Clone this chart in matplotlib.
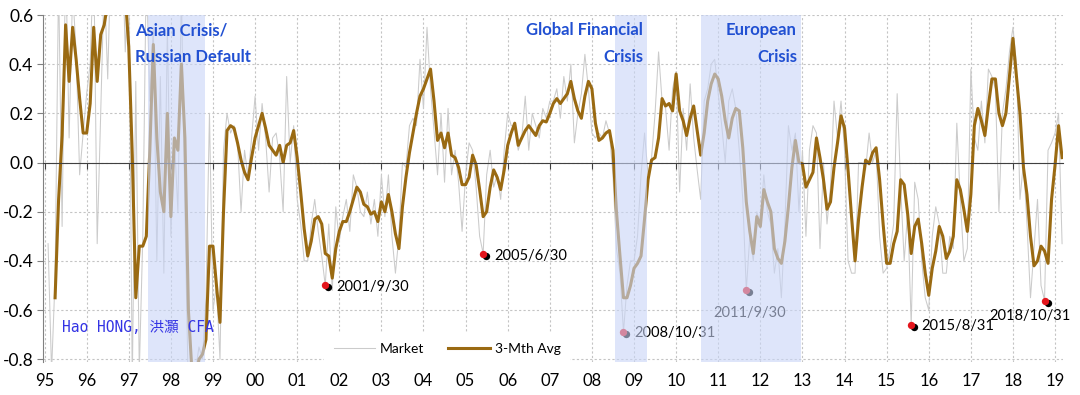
import numpy as np
import matplotlib.pyplot as plt
from matplotlib import transforms

plt.rcParams['font.family'] = ['Lato', 'DejaVu Sans']
plt.rcParams['axes.unicode_minus'] = False

# monthly series, market from 1995/2, 3-mth avg from 1995/4
market_start = (1995, 2)
market = [
    -0.33, -0.85, -0.47, 0.75, -0.26, 0.85, 0.10, 0.70, 0.45, -0.05, 0.12,
    0.28, 0.40, 0.85, -0.33, 0.20, 0.75, 0.34, 0.90, 1.00, 0.75, 0.95, 0.45,
    0.80, -0.90, 0.33, -0.85, -0.30, 0.80, 0.25, 0.55, -0.40, 0.35, -0.45, 0.55,
    -0.30, 0.10, -0.20, 0.70, -0.20, -0.95, -0.90, -0.85, -0.75, -0.80, -0.55, 0.20,
    -0.60, -0.50, -0.80, 0.05, 0.20, 0.12, 0.15, 0.08, -0.20, 0.05, -0.06, 0.10,
    0.27, 0.05, 0.24, 0.10, -0.12, 0.10, 0.12, 0.02, -0.20, 0.35, 0.00, 0.15,
    -0.15, -0.25, -0.40, -0.40, -0.25, -0.15, -0.28, -0.38, -0.50, -0.25, -0.52, -0.18,
    -0.32, -0.22, -0.15, -0.28, -0.05, -0.10, -0.20, -0.22, -0.12, -0.25, -0.15, -0.30,
    -0.05, -0.22, -0.05, -0.30, -0.45, -0.30, 0.00, -0.02, 0.15, 0.18, 0.15, 0.42,
    0.22, 0.55, 0.30, 0.13, -0.05, 0.20, -0.08, 0.22, -0.05, 0.05, -0.08, -0.28,
    -0.05, 0.08, 0.05, -0.10, -0.30, -0.37, -0.05, 0.05, -0.10, -0.05, -0.15, 0.05,
    0.20, 0.15, 0.15, 0.05, 0.10, 0.27, 0.05, 0.20, 0.15, 0.10, 0.22, 0.18,
    0.25, 0.25, 0.30, 0.18, 0.35, 0.25, 0.40, 0.08, 0.20, 0.28, 0.44, 0.30,
    0.12, 0.10, 0.12, 0.10, 0.17, 0.12, -0.05, -0.35, -0.45, -0.69, -0.50, -0.40,
    -0.40, -0.30, -0.05, 0.12, -0.05, 0.02, 0.20, 0.45, 0.25, 0.22, 0.05, 0.30,
    0.37, -0.12, 0.22, 0.05, 0.32, 0.10, -0.03, -0.15, 0.25, 0.30, 0.40, 0.42,
    0.28, 0.15, 0.00, 0.25, 0.30, 0.22, 0.05, -0.15, -0.52, -0.30, -0.40, -0.20,
    -0.25, -0.05, -0.20, -0.25, -0.45, -0.35, -0.55, -0.25, 0.15, 0.05, 0.12, -0.20,
    0.05, -0.30, 0.05, 0.15, 0.12, -0.35, 0.00, -0.25, -0.10, 0.25, 0.10, 0.25,
    0.05, -0.40, -0.45, -0.45, 0.00, 0.00, -0.03, 0.12, 0.00, 0.05, -0.30, -0.45,
    -0.43, -0.35, -0.25, 0.28, -0.10, -0.40, -0.20, -0.66, -0.08, -0.15, -0.40, -0.55,
    -0.60, -0.30, -0.18, -0.25, -0.45, -0.45, -0.30, -0.35, 0.16, -0.15, -0.40, -0.35,
    0.38, 0.10, 0.05, 0.25, 0.08, 0.38, 0.35, 0.30, -0.20, 0.20, 0.30, 0.45,
    0.55, 0.40, -0.15, 0.00, -0.25, -0.55, -0.35, -0.15, -0.50, -0.56, 0.05, 0.08,
    0.12, 0.20, -0.33,
]

avg_start = (1995, 4)
avg = [
    -0.55, -0.15, 0.11, 0.56, 0.33, 0.55, 0.42, 0.26, 0.12,
    0.12, 0.24, 0.55, 0.33, 0.52, 0.56, 0.65, 0.78, 0.88, 0.92, 0.85, 0.68,
    0.47, 0.03, -0.55, -0.34, -0.34, -0.30, 0.05, 0.48, 0.10, -0.12, -0.20, 0.20,
    -0.22, 0.10, 0.05, 0.40, 0.10, -0.60, -0.85, -0.90, -0.80, -0.78, -0.72, -0.34,
    -0.34, -0.50, -0.65, -0.20, 0.13, 0.15, 0.14, 0.08, 0.01, -0.04, -0.07, 0.02,
    0.10, 0.15, 0.20, 0.14, 0.07, 0.05, 0.03, 0.07, 0.00, 0.07, 0.08, 0.13,
    0.02, -0.12, -0.27, -0.38, -0.32, -0.23, -0.22, -0.25, -0.37, -0.38, -0.47, -0.35,
    -0.28, -0.24, -0.24, -0.20, -0.15, -0.10, -0.12, -0.17, -0.18, -0.21, -0.20, -0.24,
    -0.16, -0.20, -0.13, -0.20, -0.29, -0.35, -0.18, -0.06, 0.04, 0.12, 0.20, 0.27,
    0.30, 0.34, 0.38, 0.25, 0.09, 0.12, 0.06, 0.12, 0.03, 0.02, -0.02, -0.09,
    -0.09, -0.06, 0.03, -0.01, -0.11, -0.22, -0.20, -0.10, -0.03, -0.06, -0.11, -0.03,
    0.07, 0.12, 0.16, 0.07, 0.10, 0.13, 0.15, 0.13, 0.11, 0.15, 0.17, 0.165,
    0.20, 0.24, 0.26, 0.24, 0.26, 0.28, 0.33, 0.26, 0.21, 0.18, 0.27, 0.33,
    0.30, 0.16, 0.09, 0.10, 0.12, 0.13, 0.05, -0.20, -0.38, -0.55, -0.55, -0.50,
    -0.43, -0.41, -0.38, -0.23, -0.07, 0.01, 0.02, 0.10, 0.26, 0.23, 0.24, 0.21,
    0.36, 0.21, 0.17, 0.11, 0.18, 0.23, 0.13, 0.03, 0.12, 0.25, 0.32, 0.36,
    0.34, 0.27, 0.17, 0.10, 0.18, 0.22, 0.21, 0.06, -0.16, -0.28, -0.37, -0.22,
    -0.26, -0.11, -0.16, -0.20, -0.35, -0.39, -0.41, -0.32, -0.18, -0.02, 0.09, 0.00,
    -0.005, -0.10, -0.07, -0.04, 0.10, 0.02, -0.07, -0.19, -0.16, -0.02, 0.08, 0.19,
    0.14, -0.03, -0.22, -0.40, -0.23, -0.10, 0.01, -0.005, 0.04, 0.06, -0.07, -0.25,
    -0.41, -0.41, -0.33, -0.28, -0.07, -0.09, -0.21, -0.37, -0.26, -0.23, -0.33, -0.45,
    -0.54, -0.43, -0.36, -0.26, -0.30, -0.39, -0.36, -0.30, -0.07, -0.11, -0.19, -0.28,
    -0.13, 0.15, 0.22, 0.17, 0.11, 0.23, 0.34, 0.34, 0.20, 0.15, 0.20, 0.35,
    0.505, 0.35, 0.20, -0.02, -0.13, -0.30, -0.42, -0.40, -0.34, -0.36, -0.41, -0.15,
    -0.01, 0.15, 0.02,
]

# market lows marked on the chart
low_dates = ['2001/9/30', '2005/6/30', '2008/10/31', '2011/9/30', '2015/8/31', '2018/10/31']
low_values = [-0.50, -0.37, -0.69, -0.52, -0.66, -0.565]
low_offsets = [(11, -2), (11, -2), (11, -1), (3, -23), (10, -1), (-15, -15)]
low_ha = ['left', 'left', 'left', 'center', 'left', 'center']

crisis_names = [['Asian Crisis/', 'Russian Default'], ['Global Financial', 'Crisis'], ['European', 'Crisis']]
crisis_spans = [(1997.46, 1998.81), (2008.55, 2009.32), (2010.59, 2012.96)]
crisis_text_x = [1997.15, 2009.22, 2012.87]
crisis_text_ha = ['left', 'right', 'right']

years = list(range(1995, 2020))
year_labels = ['%02d' % (y % 100) for y in years]
yticks = [0.6, 0.4, 0.2, 0.0, -0.2, -0.4, -0.6, -0.8]

gold = '#9a6a12'
blue = '#2150d2'


def month_x(start, n):
    return start[0] + (start[1] - 1) / 12 + np.arange(n) / 12


fig = plt.figure(figsize=(10.8, 3.95), dpi=100)
ax = fig.add_axes([0.0397, 0.0843, 0.945, 0.8777])

ax.plot(month_x(market_start, len(market)), market, color='#cbcbcb', lw=0.75, zorder=2, label='Market')
ax.plot(month_x(avg_start, len(avg)), avg, color=gold, lw=2.2, zorder=3, label='3-Mth Avg')

# lows: red dot with a black shadow
shadow = transforms.offset_copy(ax.transData, fig=fig, x=3, y=-2, units='dots')
for d, v, off, ha in zip(low_dates, low_values, low_offsets, low_ha):
    yy, mm, dd = map(int, d.split('/'))
    x = yy + (mm - 1) / 12
    ax.scatter([x], [v], s=28, color='black', transform=shadow, zorder=4, lw=0)
    ax.scatter([x], [v], s=28, color='#e3151c', zorder=4, lw=0)
    ax.annotate(d, (x, v), xytext=off, textcoords='offset pixels', ha=ha, va='center',
                fontsize=10.5, color='black', zorder=4)

for (a, b) in crisis_spans:
    ax.axvspan(a, b, color='#c9d5f7', alpha=0.6, lw=0, zorder=5)

for names, x, ha in zip(crisis_names, crisis_text_x, crisis_text_ha):
    for name, y in zip(names, [0.539, 0.429]):
        ax.text(x, y, name, ha=ha, va='center', color=blue, fontsize=12, fontweight='bold', zorder=6)

ax.text(1995.42, -0.669, 'Hao HONG, 洪灝 CFA', family=['DejaVu Sans Mono', 'Noto Sans CJK SC'],
        color='#3434e4', fontsize=10.5, va='center', zorder=6)

ax.set_xlim(1994.96, 2019.2)
ax.set_ylim(-0.81, 0.6)
ax.set_yticks(yticks)
ax.set_yticklabels(['%.1f' % t for t in yticks])
ax.set_xticks(years)
ax.grid(True, color='#c4c4c4', linestyle=(0, (2, 2)), lw=0.8)
ax.set_axisbelow(True)

ax.spines['top'].set_visible(False)
ax.spines['right'].set_visible(False)
ax.spines['left'].set_color('#808080')
ax.spines['bottom'].set_position(('data', 0))
ax.spines['bottom'].set_color('#404040')
ax.spines['bottom'].set_zorder(3.5)
ax.tick_params(axis='x', direction='out', length=4, color='#404040', labelbottom=False)
ax.tick_params(axis='y', direction='out', length=4, color='#808080', labelsize=12.5, pad=3)

sec = ax.secondary_xaxis('bottom')
sec.set_xticks(years)
sec.set_xticklabels(year_labels)
sec.tick_params(length=0, labelsize=12, pad=8)
sec.spines['bottom'].set_visible(False)

ax.legend(loc='center', bbox_to_anchor=(0.396, 0.037), ncol=2, frameon=True, facecolor='white',
          edgecolor='none', framealpha=1, fontsize=10, handlelength=3, columnspacing=1.7,
          handletextpad=0.35, borderpad=0.7)

fig.savefig('out.png', dpi=100)
